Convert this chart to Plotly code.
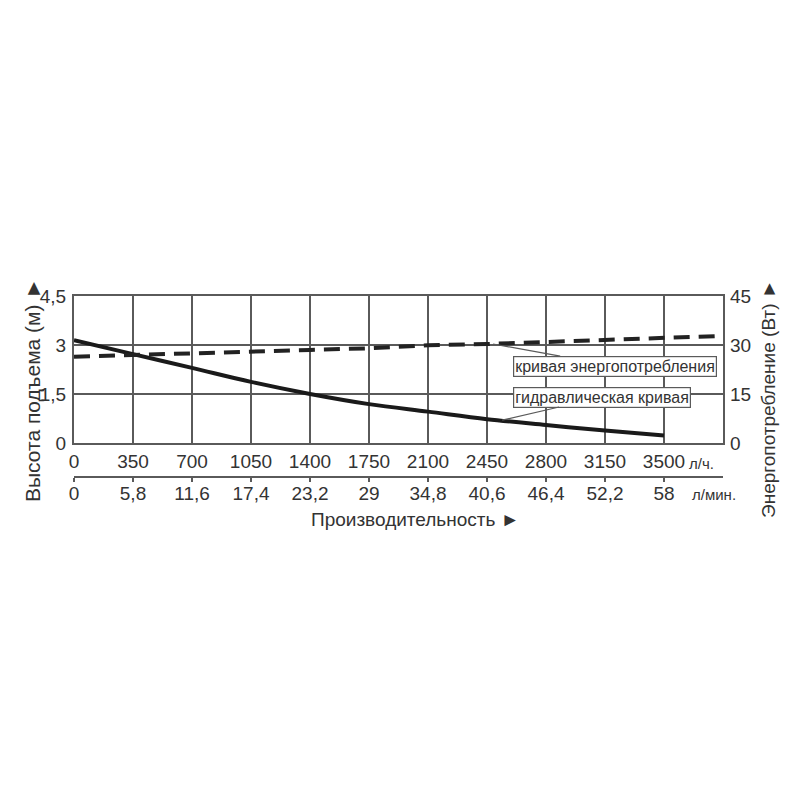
import plotly.graph_objects as go

# расход, л/ч
flow_lph = [0, 350, 700, 1050, 1400, 1750, 2100, 2450, 2800, 3150, 3500]
flow_lpm = ["0", "5,8", "11,6", "17,4", "23,2", "29", "34,8", "40,6", "46,4", "52,2", "58"]

# гидравлическая кривая, м
head_m = [3.15, 2.72, 2.30, 1.87, 1.50, 1.19, 0.96, 0.73, 0.55, 0.38, 0.23]

# кривая энергопотребления, Вт
power_flow = [0, 350, 700, 1050, 1400, 1750, 2100, 2450, 2800, 3150, 3500, 3850]
power_w = [26.4, 27.0, 27.5, 27.9, 28.5, 29.0, 29.9, 30.3, 30.9, 31.5, 32.1, 32.8]

head_ticks = [0, 1.5, 3, 4.5]
head_labels = ["0", "1,5", "3", "4,5"]
power_ticks = [0, 15, 30, 45]

FONT = "Liberation Sans, Arial"
TXT = "#333333"
GRID = "#5a5a5a"

# страница сдвигает рисунок на 8 px (поле body)
OFF = 8
# область построения в пикселях экрана: x 74..723, бумага по y 296..477
L, R, T, B = 74, 723, 296, 477


def px(x):
    return (x - L) / (R - L)


def py(y):
    return (B - y) / (B - T)


fig = go.Figure()
fig.add_trace(go.Scatter(x=flow_lph, y=head_m, mode="lines",
                         line=dict(color="#1a1a1a", width=4, shape="spline"),
                         showlegend=False, hoverinfo="skip"))
fig.add_trace(go.Scatter(x=power_flow, y=power_w, mode="lines", yaxis="y2",
                         line=dict(color="#222222", width=4, dash="16px,9px"),
                         showlegend=False, hoverinfo="skip"))
# пустой след, чтобы показать вторую ось x
fig.add_trace(go.Scatter(x=[None], y=[None], xaxis="x2", showlegend=False,
                         hoverinfo="skip"))

fig.update_layout(
    width=800, height=800,
    margin=dict(l=L - OFF, r=800 - R + OFF, t=T - OFF, b=800 - B + OFF),
    paper_bgcolor="white", plot_bgcolor="white",
    font=dict(family=FONT, size=19, color=TXT),
    xaxis=dict(range=[0, 3850], tickvals=flow_lph,
               ticktext=[str(v) for v in flow_lph],
               showgrid=True, gridcolor=GRID, gridwidth=1.5,
               showline=True, linecolor=GRID, linewidth=2, mirror=True,
               ticks="", zeroline=False, anchor="y", automargin=False),
    xaxis2=dict(range=[0, 3850], tickvals=flow_lph, ticktext=flow_lpm,
                overlaying="x", anchor="free", position=0, side="bottom",
                showgrid=False, showline=True, linecolor=GRID, linewidth=2,
                ticks="outside", ticklen=4, tickcolor=GRID, tickwidth=2,
                ticklabelstandoff=-5, zeroline=False, automargin=False),
    yaxis=dict(range=[0, 4.5], tickvals=head_ticks, ticktext=head_labels,
               domain=[py(443), 1],
               showgrid=True, gridcolor=GRID, gridwidth=1.5,
               showline=True, linecolor=GRID, linewidth=2, mirror=True,
               ticks="", zeroline=False, ticklabelstandoff=2, automargin=False),
    yaxis2=dict(range=[0, 45], tickvals=power_ticks, overlaying="y",
                side="right", showgrid=False, zeroline=False, ticks="",
                ticklabelstandoff=6, automargin=False),
)

ann_font = dict(family=FONT, size=16, color=TXT)
fig.add_annotation(x=2486, y=30.3, yref="y2", text="кривая энергопотребления",
                   showarrow=True, arrowhead=0, arrowwidth=1.2, arrowcolor=GRID,
                   ax=122, ay=22, font=ann_font, bgcolor="white",
                   bordercolor=GRID, borderwidth=1.2, borderpad=1)
fig.add_annotation(x=2540, y=0.70, text="гидравлическая кривая",
                   showarrow=True, arrowhead=0, arrowwidth=1.2, arrowcolor=GRID,
                   ax=100, ay=-23, font=ann_font, bgcolor="white",
                   bordercolor=GRID, borderwidth=1.2, borderpad=1)

unit_font = dict(family=FONT, size=15, color=TXT)
title_font = dict(family=FONT, size=19, color=TXT)


def label(x, y, text, font, xanchor="center", angle=0):
    fig.add_annotation(x=px(x), y=py(y), xref="paper", yref="paper",
                       xanchor=xanchor, yanchor="middle", text=text,
                       textangle=angle, showarrow=False, font=font)


label(687, 463, "л/ч.", unit_font, xanchor="left")
label(690, 494, "л/мин.", unit_font, xanchor="left")
label(415, 519, "Производительность ►", title_font)
# повернутый ► смотрит вверх
label(32, 390, "Высота подъема (м) ►", dict(family=FONT, size=21, color=TXT), angle=-90)
label(768, 399, "Энергопотребление (Вт) ►", title_font, angle=-90)

fig.write_html("out.html")
